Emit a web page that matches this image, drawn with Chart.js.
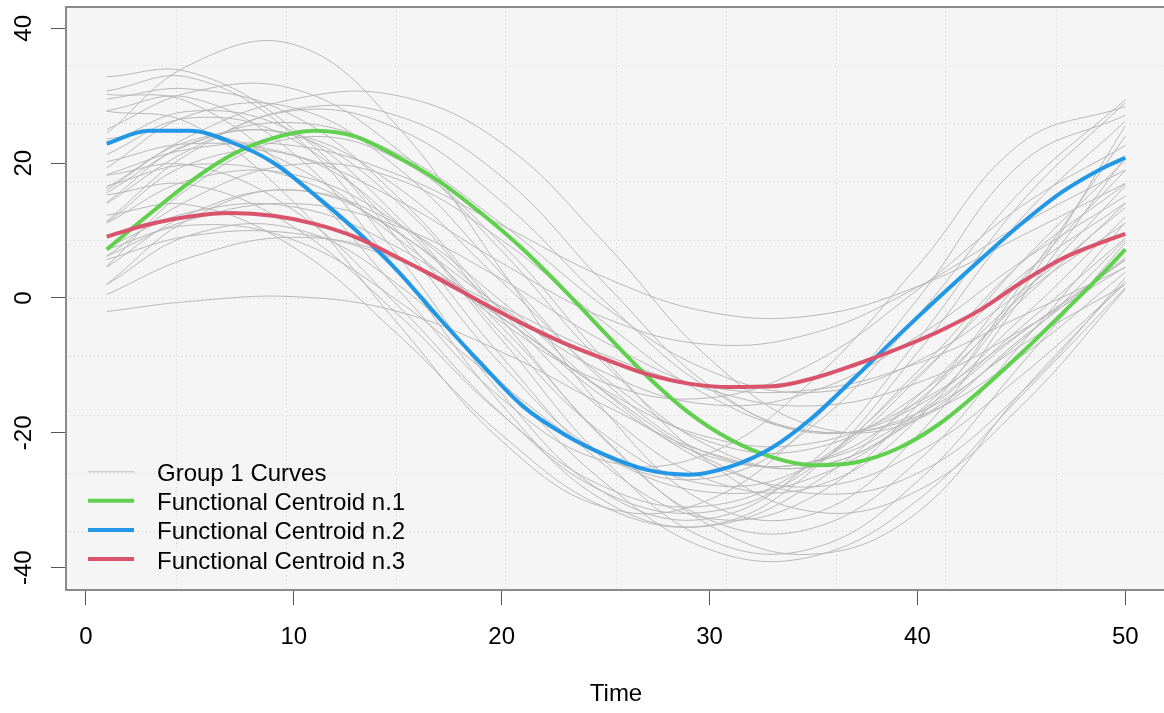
<!DOCTYPE html>
<html>
<head>
<meta charset="utf-8">
<script src="https://cdn.jsdelivr.net/npm/chart.js@4.4.1/dist/chart.umd.min.js"></script>
<style>
  html, body { margin: 0; padding: 0; background: #ffffff; overflow: hidden; }
  #wrap { width: 1180px; height: 713px; }
</style>
</head>
<body>
<div id="wrap"><canvas id="chart" width="1180" height="713"></canvas></div>
<script>
// ---- data -------------------------------------------------------------
// sampling times of the individual curves
const curveTimes = [1, 5, 10, 15, 20, 25, 30, 35, 40, 45, 50];

// Group 1 curves (one array per curve, values at curveTimes)
const c01 = [30.7, 32.7, 24.1, 6.3, -14.2, -29.0, -32.7, -24.1, -6.3, 14.2, 29.0];
const c02 = [24.4, 34.6, 37.6, 25.4, 4.1, -16.9, -30.6, -32.0, -20.4, -0.1, 20.9];
const c03 = [21.3, 26.7, 23.4, 9.9, -8.7, -24.9, -32.7, -29.4, -15.9, 2.7, 18.9];
const c04 = [30.2, 29.0, 18.1, 1.3, -14.9, -24.2, -23.0, -12.1, 4.7, 23.0, 28.4];
const c05 = [27.8, 29.7, 21.4, 4.1, -15.8, -30.2, -33.7, -25.4, -8.1, 11.8, 26.2];
const c06 = [14.0, 22.0, 28.0, 27.0, 18.0, 2.0, -13.0, -20.0, -16.0, -3.0, 12.0];
const c07 = [14.2, 22.9, 24.1, 14.2, -3.2, -21.2, -32.9, -34.1, -24.2, -6.8, 11.2];
const c08 = [11.2, 19.9, 21.1, 11.2, -6.2, -24.2, -35.9, -37.1, -27.2, -9.8, 8.2];
const c09 = [6.2, 14.6, 19.8, 17.6, 8.6, -3.8, -14.6, -19.8, -17.6, -8.6, 3.8];
const c10 = [11.1, 17.5, 18.3, 11.1, -1.7, -14.9, -23.5, -24.3, -17.1, -4.3, 8.9];
const c11 = [16.6, 19.8, 17.8, 9.7, -1.4, -11.1, -15.8, -13.8, -5.7, 5.4, 15.1];
const c12 = [7.5, 12.7, 13.5, 7.5, -2.9, -13.7, -20.7, -21.5, -15.5, -5.1, 5.7];
const c13 = [12.3, 13.8, 7.5, -5.4, -20.3, -31.1, -33.8, -27.5, -14.6, 0.3, 11.1];
const c14 = [2.0, 9.3, 10.3, 2.0, -12.5, -27.5, -37.3, -38.3, -30.0, -14.5, 1.5];
const c15 = [18.3, 22.1, 22.6, 18.3, 10.8, 3.0, -2.1, -2.6, 1.7, 9.2, 17.0];
const c16 = [20.2, 22.9, 21.2, 14.5, 5.2, -3.0, -6.9, -5.2, 1.6, 10.9, 19.0];
const c17 = [15.6, 22.8, 26.0, 21.4, 11.0, -1.4, -10.8, -14.0, -9.4, 1.0, 13.4];
const c18 = [11.4, 21.5, 27.8, 25.1, 14.3, -0.6, -13.5, -19.8, -17.1, -6.3, 8.6];
const c19 = [4.7, 16.4, 23.7, 20.6, 8.0, -9.3, -24.4, -31.7, -28.6, -16.0, 1.3];
const c20 = [16.0, 24.0, 29.5, 30.0, 23.0, 8.0, -9.0, -19.0, -18.0, -6.0, 6.0];
const c21 = [18.2, 19.7, 13.0, -1.1, -17.2, -28.9, -31.7, -25.0, -10.9, 5.2, 16.9];
const c22 = [22.7, 27.7, 24.6, 12.0, -5.3, -20.4, -27.7, -24.6, -12.0, 5.3, 20.4];
const c23 = [6.2, 11.6, 14.0, 10.6, 2.8, -6.6, -13.6, -16.0, -12.6, -4.8, 4.6];
const c24 = [19.3, 27.1, 28.2, 19.3, 3.6, -12.6, -23.1, -24.2, -15.3, 0.4, 16.6];
const c25 = [27.7, 25.9, 14.2, -3.8, -21.2, -31.1, -29.9, -18.2, -0.2, 20.0, 27.1];
const c26 = [4.6, 12.5, 16.0, 10.9, -0.5, -14.1, -24.5, -28.0, -22.9, -11.5, 2.1];
const c27 = [16.4, 23.3, 24.3, 16.4, 2.4, -12.0, -21.3, -22.3, -14.4, -0.4, 14.0];
const c28 = [7.2, 10.8, 8.6, -0.4, -12.8, -23.6, -28.8, -26.6, -17.6, -5.2, 5.6];
const c29 = [23.6, 24.8, 19.6, 8.8, -3.6, -12.6, -14.8, -9.6, 1.2, 13.6, 22.6];
const c30 = [2.0, 11.7, 16.0, 9.8, -4.3, -21.0, -33.7, -38.0, -31.8, -14.0, 2.5];
const c31 = [32.8, 33.5, 25.0, 8.7, -9.9, -23.4, -26.7, -18.9, -2.7, 15.9, 29.4];
const c32 = [15.3, 16.8, 10.5, -2.4, -17.3, -28.1, -30.8, -24.5, -11.6, 3.3, 14.1];
const c33 = [5.7, 9.2, 9.6, 5.7, -1.3, -8.5, -13.2, -13.6, -9.7, -2.7, 4.5];
const c34 = [-2.0, -0.5, 0.2, -2.0, -8.0, -16.0, -23.0, -25.0, -18.0, -7.0, 2.0];
const c35 = [29.5, 31.0, 27.0, 15.0, -2.0, -17.0, -27.0, -28.0, -18.0, 2.0, 24.0];
const c36 = [0.5, 6.0, 9.0, 6.0, -3.0, -14.0, -24.0, -29.0, -26.0, -14.0, 3.0];
const c37 = [25.0, 30.5, 31.0, 22.0, 7.0, -10.0, -22.0, -25.0, -17.0, 1.0, 25.5];
const group1Curves = [c01, c02, c03, c04, c05, c06, c07, c08, c09, c10, c11, c12, c13,
  c14, c15, c16, c17, c18, c19, c20, c21, c22, c23, c24, c25, c26, c27, c28, c29, c30,
  c31, c32, c33, c34, c35, c36, c37];

// functional centroids
const centroidTimes = [1, 3, 5, 7, 9, 11, 13, 15, 17, 19, 21, 23, 25, 27, 29, 31, 33, 35, 37, 39, 41, 43, 45, 47, 49, 50];
const centroid1 = [7.2, 12.3, 17.2, 21.2, 23.7, 24.8, 23.9, 20.9, 17.3, 12.6, 7.3, 1.2, -5.3, -11.6, -17.0, -21.0, -23.6, -24.8, -24.4, -22.4, -18.8, -13.8, -8.2, -2.2, 3.9, 7.2];
const centroid2 = [22.9, 24.8, 24.8, 23.1, 20.1, 15.3, 10.0, 4.0, -3.0, -9.7, -16.0, -20.2, -23.3, -25.5, -26.2, -25.0, -22.2, -17.6, -11.8, -5.8, 0.0, 5.6, 11.0, 15.8, 19.4, 20.8];
const centroid3 = [9.1, 10.9, 12.1, 12.6, 12.2, 11.0, 9.0, 6.0, 2.8, -0.6, -3.8, -6.7, -9.1, -11.3, -12.7, -13.2, -13.1, -11.9, -9.9, -7.6, -5.0, -1.8, 2.3, 5.9, 8.4, 9.5];

// axes
const xTicks = [0, 10, 20, 30, 40, 50];
const yTicks = [-40, -20, 0, 20, 40];
const xRange = [-0.96, 51.96];
const yRange = [-43.31, 43.16];

const legendLabels = ['Group 1 Curves', 'Functional Centroid n.1', 'Functional Centroid n.2', 'Functional Centroid n.3'];

// ---- styling ----------------------------------------------------------
const FONT = '"Liberation Sans", Arial, Helvetica, sans-serif';
const COLORS = { curve: '#b9b9b9', c1: '#61D04F', c2: '#2297E6', c3: '#D9536C' };

Chart.defaults.font.family = FONT;
Chart.defaults.color = '#000000';

const toPoints = (times, values) => times.map((t, i) => ({ x: t, y: values[i] }));

const datasets = [];
group1Curves.forEach((vals, i) => {
  datasets.push({
    label: legendLabels[0],
    data: toPoints(curveTimes, vals),
    borderColor: COLORS.curve,
    borderWidth: 1,
    tension: 0.4,
    pointRadius: 0,
    order: 3,
    legendRow: i === 0 ? 0 : -1
  });
});
[[centroid1, COLORS.c1, 2, 1], [centroid2, COLORS.c2, 1, 2], [centroid3, COLORS.c3, 0, 3]].forEach(([vals, col, ord, row]) => {
  datasets.push({
    label: legendLabels[row],
    data: toPoints(centroidTimes, vals),
    borderColor: col,
    borderWidth: 4,
    cubicInterpolationMode: 'monotone',
    pointRadius: 0,
    order: ord,
    legendRow: row
  });
});

// light panel behind the plotting region
const panelBackground = {
  id: 'panelBackground',
  beforeDraw(chart) {
    const { ctx, chartArea: a } = chart;
    ctx.save();
    ctx.fillStyle = '#f5f5f5';
    ctx.fillRect(a.left, a.top, a.right - a.left, a.bottom - a.top);
    ctx.restore();
  }
};

// frame around the plotting region plus the in-panel legend
const frameAndLegend = {
  id: 'frameAndLegend',
  afterDraw(chart) {
    const { ctx, chartArea: a } = chart;
    ctx.save();
    ctx.strokeStyle = '#8a8a8a';
    ctx.lineWidth = 2;
    ctx.strokeRect(a.left, a.top, a.right - a.left, a.bottom - a.top);

    const rowY0 = 471.7, rowStep = 29.1;
    const lineX0 = 88, lineX1 = 134, textX = 157;
    ctx.font = '24px ' + FONT;
    ctx.textBaseline = 'alphabetic';
    ctx.textAlign = 'left';
    chart.data.datasets.filter(d => d.legendRow >= 0)
      .sort((p, q) => p.legendRow - q.legendRow)
      .forEach(d => {
        const y = rowY0 + d.legendRow * rowStep;
        ctx.beginPath();
        ctx.strokeStyle = d.legendRow === 0 ? '#cfcfcf' : d.borderColor;
        ctx.lineWidth = d.legendRow === 0 ? 1.5 : 4;
        ctx.moveTo(lineX0, y);
        ctx.lineTo(lineX1, y);
        ctx.stroke();
        ctx.fillStyle = '#000000';
        ctx.fillText(d.label, textX, y + 9.5);
      });
    ctx.restore();
  }
};

const gridValues = (r) => {
  const out = [];
  for (let k = 1; k < 10; k++) out.push({ value: r[0] + k * (r[1] - r[0]) / 10 });
  return out;
};

new Chart(document.getElementById('chart'), {
  type: 'line',
  data: { datasets },
  plugins: [panelBackground, frameAndLegend],
  options: {
    responsive: false,
    animation: false,
    events: [],
    layout: { padding: { top: 7, right: 14, left: 0, bottom: 0 } },
    plugins: { legend: { display: false }, tooltip: { enabled: false } },
    scales: {
      x: {
        type: 'linear', position: 'bottom', min: xRange[0], max: xRange[1],
        afterBuildTicks: s => { s.ticks = xTicks.map(v => ({ value: v })); },
        afterFit: s => { s.height = 123; s.paddingLeft = 0; s.paddingRight = 0; },
        grid: { drawOnChartArea: false, drawTicks: true, tickLength: 15, tickColor: '#555555', color: '#555555', lineWidth: 1 },
        border: { display: false },
        ticks: { padding: 18, color: '#000000', font: { size: 24 }, maxRotation: 0, autoSkip: false },
        title: { display: true, text: 'Time', color: '#000000', font: { size: 24 }, padding: { top: 0, bottom: 4 } }
      },
      y: {
        type: 'linear', position: 'left', min: yRange[0], max: yRange[1],
        afterBuildTicks: s => { s.ticks = yTicks.map(v => ({ value: v })); },
        afterFit: s => { s.width = 66; s.paddingTop = 0; s.paddingBottom = 0; },
        grid: { drawOnChartArea: false, drawTicks: true, tickLength: 15, tickColor: '#555555', color: '#555555', lineWidth: 1 },
        border: { display: false },
        ticks: { minRotation: 90, maxRotation: 90, crossAlign: 'center', padding: 9, color: '#000000', font: { size: 24 }, autoSkip: false }
      },
      gx: {
        type: 'linear', position: 'bottom', min: xRange[0], max: xRange[1],
        afterBuildTicks: s => { s.ticks = gridValues(xRange); },
        afterFit: s => { s.height = 0; s.paddingLeft = 0; s.paddingRight = 0; },
        ticks: { display: false },
        grid: { drawTicks: false, color: '#d3d3d3', lineWidth: 1 },
        border: { display: false, dash: [1, 3] }
      },
      gy: {
        type: 'linear', position: 'left', min: yRange[0], max: yRange[1],
        afterBuildTicks: s => { s.ticks = gridValues(yRange); },
        afterFit: s => { s.width = 0; s.paddingTop = 0; s.paddingBottom = 0; },
        ticks: { display: false },
        grid: { drawTicks: false, color: '#d3d3d3', lineWidth: 1 },
        border: { display: false, dash: [1, 3] }
      }
    }
  }
});
</script>
</body>
</html>
